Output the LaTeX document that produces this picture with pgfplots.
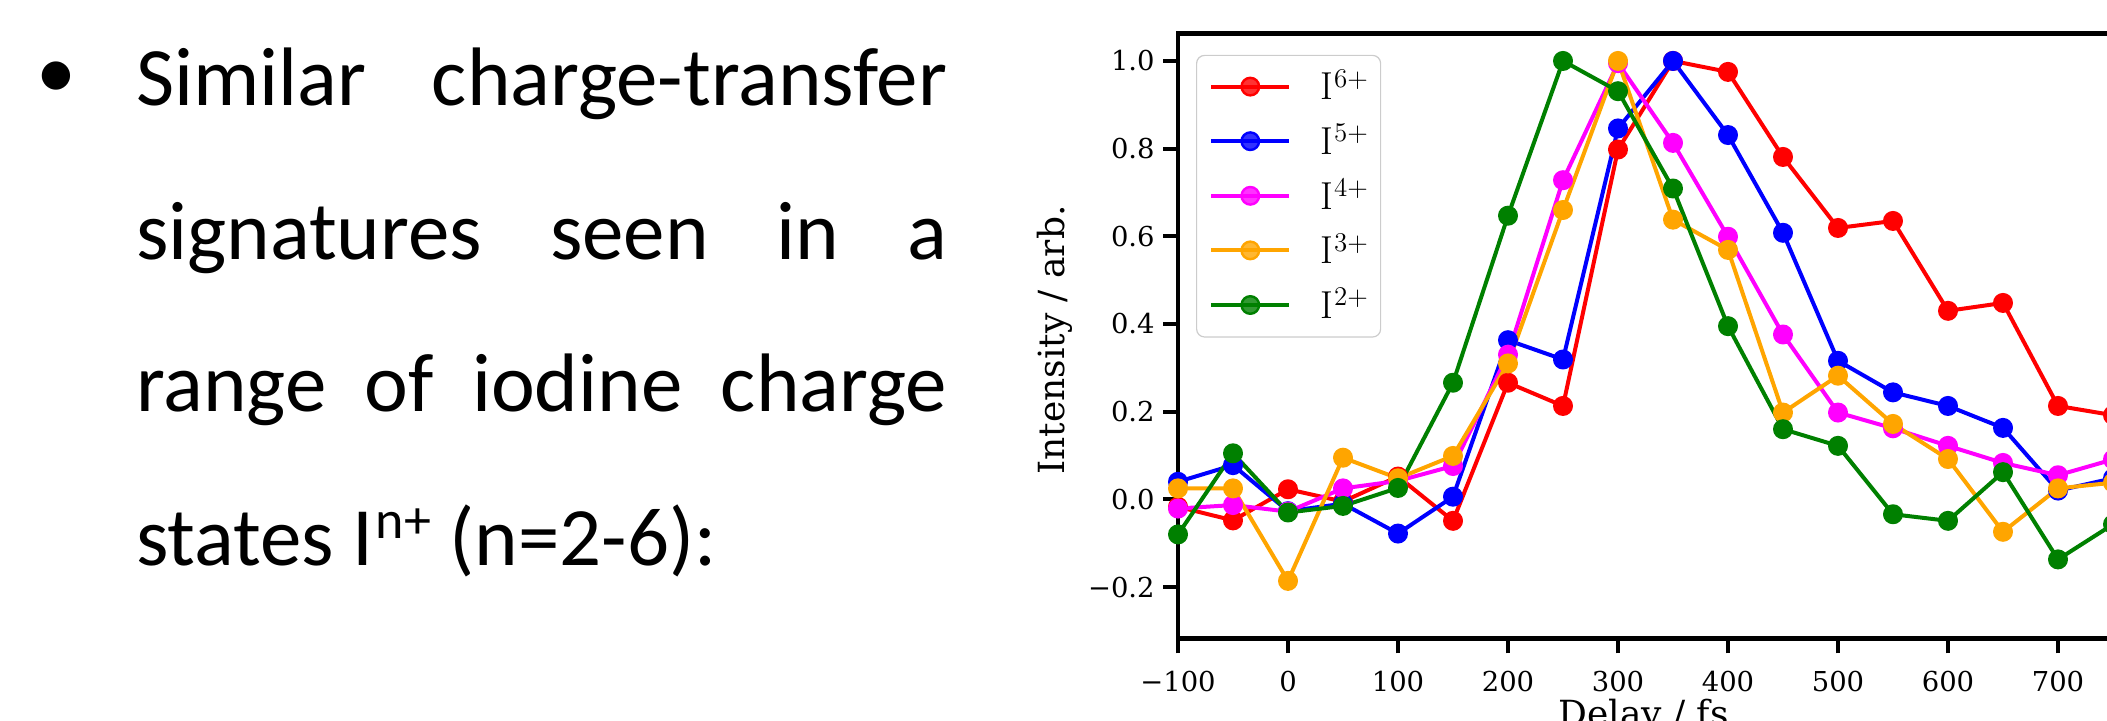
\documentclass[border=0pt]{standalone}
\usepackage{fontspec}
\usepackage{pgfplots}
\pgfplotsset{compat=1.18}
\newfontfamily\djs{DejaVu Serif}
\newfontfamily\carlito{Carlito}
\definecolor{mred}{HTML}{FF0000}
\definecolor{mblue}{HTML}{0000FF}
\definecolor{mmag}{HTML}{FF00FF}
\definecolor{morange}{HTML}{FFA500}
\definecolor{mgreen}{HTML}{008000}
\newcommand{\ion}[1]{I\hspace{0.5pt}\raisebox{6.4pt}{\fontsize{13.5}{13.5}\selectfont #1}}

\begin{document}
\begin{tikzpicture}
\useasboundingbox (0,0) rectangle (1053.5pt,-360pt);
\clip (0,0) rectangle (1053.5pt,-360pt);

% slide text
\node[anchor=base, inner sep=0pt, font=\carlito\fontsize{40}{50}\selectfont] at (28.35pt,-49pt) {•};
\begin{scope}[every node/.style={anchor=base west, inner sep=0pt, font=\carlito\fontsize{41.5}{50}\selectfont}]
\node at (67.8pt,-52.5pt) {\hbox to 405.5pt{Similar\hfill charge-transfer}};
\node at (67.8pt,-129.5pt) {\hbox to 405.5pt{signatures\hfill seen\hfill in\hfill a}};
\node at (67.8pt,-205.9pt) {\hbox to 405.5pt{range\hfill of\hfill iodine\hfill charge}};
\node at (67.8pt,-282.5pt) {states I\hspace{1pt}\raisebox{13.3pt}{\fontsize{27}{27}\selectfont n+} (n=2-6):};
\end{scope}

\begin{axis}[
  at={(589pt,-319.15pt)}, anchor=south west,
  scale only axis, width=467.5pt, height=302.5pt,
  xmin=-100, xmax=750, ymin=-0.317, ymax=1.063,
  axis on top,
  axis line style={line width=2.2pt},
  tick align=outside, xtick pos=left, ytick pos=left,
  major tick length=7.5pt,
  every tick/.style={black, line width=2pt},
  xtick={-100,0,100,200,300,400,500,600,700},
  xticklabels={−100,0,100,200,300,400,500,600,700},
  ytick={-0.2,0,0.2,0.4,0.6,0.8,1.0},
  yticklabels={−0.2,0.0,0.2,0.4,0.6,0.8,1.0},
  tick label style={font=\djs\fontsize{13.7}{16}\selectfont, inner sep=0pt},
  xticklabel style={anchor=north, yshift=-8.8pt},
  yticklabel style={anchor=east, xshift=-4pt},
  xlabel={Delay / fs}, ylabel={Intensity / arb.},
  label style={font=\djs\fontsize{18}{22}\selectfont, inner sep=0pt},
  xlabel style={at={(rel axis cs:0.498,-0.145)}, anchor=base},
  ylabel style={at={(rel axis cs:-0.1316,0.493)}, anchor=center},
  every axis plot/.append style={line width=2pt, line join=round, mark=*, mark size=4.4pt, mark options={solid, line width=1.2pt}},
  legend image code/.code={\draw[#1, mark repeat=2, mark phase=2] plot coordinates {(0pt,0.2pt) (19.5pt,0.2pt) (39pt,0.2pt)};},
  legend style={at={(0.01925,0.9645)}, anchor=north west,
    draw=black!20, line width=0.6pt, rounded corners=4pt, fill=white, fill opacity=0.8, text opacity=1, draw opacity=1,
    inner xsep=6.35pt, inner ysep=7.3pt, row sep=10.3pt, column sep=14.5pt,
    font=\fontsize{19.5}{22}\selectfont,
    nodes={inner sep=0pt, text height=15pt, text depth=2pt}},
  legend cell align=left,
]
\addplot[mred] coordinates {(-100,-0.017) (-50,-0.048) (0,0.023) (50,-0.005) (100,0.052) (150,-0.049) (200,0.266) (250,0.213) (300,0.798) (350,1.0) (400,0.975) (450,0.781) (500,0.619) (550,0.635) (600,0.43) (650,0.448) (700,0.213) (750,0.192)};
\addlegendentry{\ion{6+}}
\addplot[mblue] coordinates {(-100,0.04) (-50,0.078) (0,-0.027) (50,-0.01) (100,-0.078) (150,0.006) (200,0.363) (250,0.319) (300,0.846) (350,1.0) (400,0.831) (450,0.608) (500,0.316) (550,0.244) (600,0.213) (650,0.163) (700,0.02) (750,0.048)};
\addlegendentry{\ion{5+}}
\addplot[mmag] coordinates {(-100,-0.021) (-50,-0.013) (0,-0.028) (50,0.025) (100,0.042) (150,0.076) (200,0.33) (250,0.728) (300,0.995) (350,0.813) (400,0.599) (450,0.376) (500,0.198) (550,0.162) (600,0.122) (650,0.083) (700,0.055) (750,0.091)};
\addlegendentry{\ion{4+}}
\addplot[morange] coordinates {(-100,0.025) (-50,0.025) (0,-0.186) (50,0.095) (100,0.048) (150,0.099) (200,0.31) (250,0.66) (300,1.0) (350,0.638) (400,0.569) (450,0.198) (500,0.282) (550,0.172) (600,0.092) (650,-0.074) (700,0.025) (750,0.038)};
\addlegendentry{\ion{3+}}
\addplot[mgreen] coordinates {(-100,-0.08) (-50,0.105) (0,-0.03) (50,-0.015) (100,0.026) (150,0.266) (200,0.647) (250,1.0) (300,0.931) (350,0.709) (400,0.395) (450,0.16) (500,0.122) (550,-0.034) (600,-0.049) (650,0.062) (700,-0.137) (750,-0.057)};
\addlegendentry{\ion{2+}}
\end{axis}
\end{tikzpicture}
\end{document}
